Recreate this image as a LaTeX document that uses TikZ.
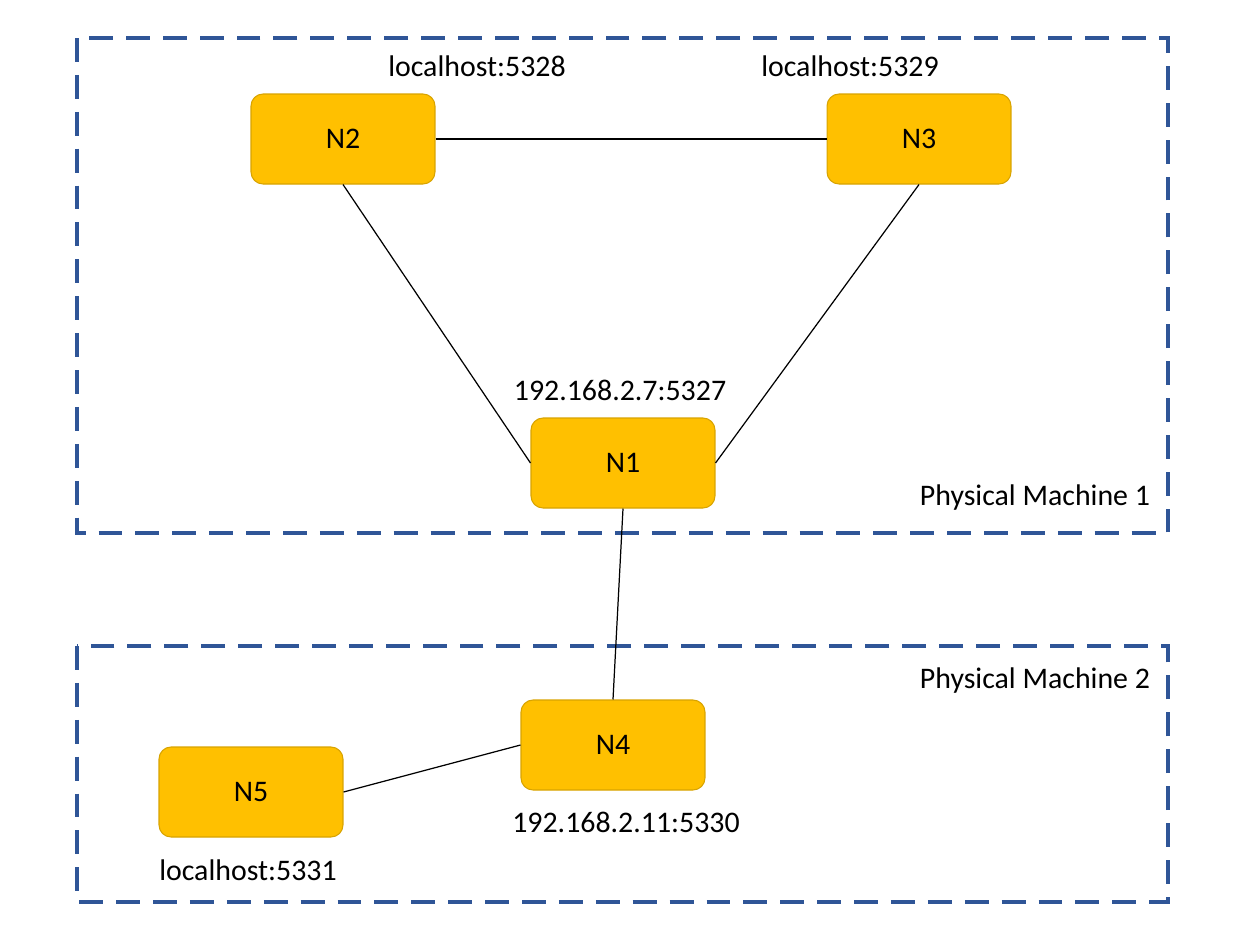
\documentclass[tikz,border=0pt]{standalone}
\usepackage{fontspec}
\setmainfont{Carlito}
\definecolor{machblue}{HTML}{2F5597}
\definecolor{nodegold}{HTML}{FFC000}
\definecolor{nodeedge}{HTML}{D8A300}

\begin{document}
\begin{tikzpicture}[x=0.02cm, y=-0.02cm, font=\fontsize{17}{20}\selectfont,
    peer/.style={draw=nodeedge, fill=nodegold, rounded corners=0.24cm, minimum width=3.68cm, minimum height=1.8cm, line width=0.6pt},
    machine/.style={draw=machblue, line width=2.3pt, dash pattern=on 13.6pt off 7.4pt},
    link/.style={line width=0.7pt}]
    \useasboundingbox (0,0) rectangle (1254,941);
    % physical machines
    \draw [machine] (77,38) rectangle (1168,533);
    \draw [machine] (77,646) rectangle (1168,902);
    \node (pm1) at (1035,498) {Physical Machine 1};
    \node (pm2) at (1035,681) {Physical Machine 2};
    % peers
    \node [peer] (n2) at (343,139) {N2};
    \node [peer] (n3) at (919,139) {N3};
    \node [peer] (n1) at (623,463) {N1};
    \node [peer] (n4) at (613,745) {N4};
    \node [peer] (n5) at (251,792) {N5};
    \node (a2) at (477,66) {localhost:5328};
    \node (a3) at (850,66) {localhost:5329};
    \node (a1) at (620,390) {192.168.2.7:5327};
    \node (a4) at (626,822) {192.168.2.11:5330};
    \node (a5) at (248,870) {localhost:5331};
    % links
    \draw [link] (n2) -- (n3);
    \draw [link] (n2.south) -- (n1.west);
    \draw [link] (n3.south) -- (n1.east);
    \draw [link] (n1.south) -- (n4.north);
    \draw [link] (n4.west) -- (n5.east);
\end{tikzpicture}
\end{document}
